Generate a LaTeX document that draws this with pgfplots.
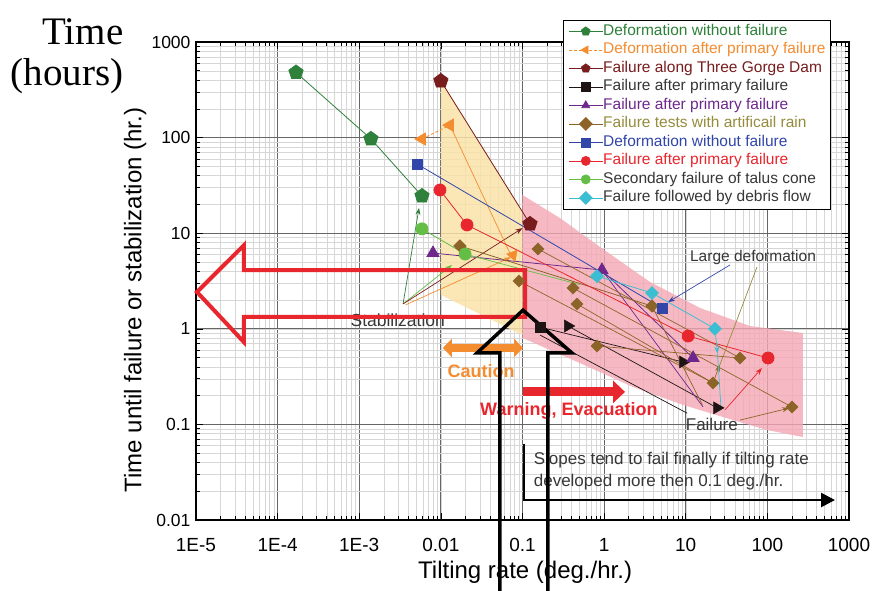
\documentclass[border=0pt]{standalone}
\usepackage{fontspec}
\setmainfont{Liberation Sans}
\newfontfamily\serifhead{Liberation Serif}
\usepackage{pgfplots}
\pgfplotsset{compat=1.18}
\usetikzlibrary{arrows.meta}

\definecolor{cGreen}{RGB}{46,128,58}
\definecolor{cOrange}{RGB}{244,140,48}
\definecolor{cMaroon}{RGB}{120,28,30}
\definecolor{cBlack}{RGB}{30,20,20}
\definecolor{cPurple}{RGB}{110,40,140}
\definecolor{cBrown}{RGB}{140,100,40}
\definecolor{cOlive}{RGB}{150,140,60}
\definecolor{cBlue}{RGB}{50,70,170}
\definecolor{cRed}{RGB}{232,38,45}
\definecolor{cLime}{RGB}{100,190,70}
\definecolor{cCyan}{RGB}{60,190,210}
\definecolor{cText}{RGB}{55,55,55}
\definecolor{bandPink}{RGB}{244,168,180}
\definecolor{bandYellow}{RGB}{250,226,168}

\pgfplotsset{
  dline/.style={line width=0.8pt},
  aline/.style={line width=0.7pt, forget plot, -{Stealth[length=7pt,width=5pt]}},
  pline/.style={line width=0.7pt, forget plot},
}

\begin{document}
\begin{tikzpicture}[x=1pt,y=1pt]
\useasboundingbox (0,0) rectangle (876,590);
\node[font=\serifhead\fontsize{39}{39}\selectfont, anchor=base] at (83,545) {Time};
\node[font=\serifhead\fontsize{39}{39}\selectfont, anchor=base] at (67,504) {(hours)};
\begin{axis}[
  at={(196pt,70pt)}, anchor=south west,
  width=653pt, height=478pt, scale only axis,
  xmode=log, ymode=log,
  xmin=1e-5, xmax=1000, ymin=0.01, ymax=1000,
  xtick={1e-5,1e-4,1e-3,1e-2,1e-1,1,10,100,1000},
  xticklabels={1E-5,1E-4,1E-3,0.01,0.1,1,10,100,1000},
  ytick={0.01,0.1,1,10,100,1000},
  yticklabels={0.01,0.1,1,10,100,1000},
  grid=both,
  major grid style={draw=black!60, line width=0.8pt},
  minor grid style={draw=black!16, line width=0.5pt},
  tick align=inside,
  major tick length=7pt, minor tick length=4pt,
  every tick/.style={black, line width=0.6pt},
  axis line style={line width=1.2pt},
  xticklabel style={font=\fontsize{19}{19}\selectfont, yshift=-15pt},
  yticklabel style={font=\fontsize{17.5}{17.5}\selectfont, xshift=-2pt},
  xlabel={Tilting rate (deg./hr.)},
  ylabel={Time until failure or stabilization (hr.)},
  label style={font=\fontsize{24}{24}\selectfont},
  xlabel style={at={(axis description cs:0.504,-0.109)}, anchor=center},
  ylabel style={at={(axis description cs:-0.093,0.46)}, anchor=center, rotate=0},
  clip=false,
  legend style={at={(axis description cs:0.562,1.046)}, anchor=north west,
    draw=black, line width=0.8pt, fill=white,
    font=\fontsize{15.5}{16}\selectfont,
    inner xsep=5pt, inner ysep=4pt, row sep=4.5pt,
    nodes={inner sep=0pt, text height=11pt, text depth=3pt}},
  legend cell align=left,
  legend image code/.code={\draw[mark repeat=2,mark phase=2] plot coordinates {(0pt,0pt) (17pt,0pt) (34pt,0pt)};},
  legend image post style={mark size=4.5pt},
]

% shaded zones: caution (yellow) and warning (pink)
\addplot[fill=bandYellow, draw=none, fill opacity=0.85, forget plot]
  coordinates {(0.01,401) (0.1,16.7) (0.1,0.86) (0.01,2.26)};
\addplot[fill=bandPink, draw=none, fill opacity=0.8, forget plot]
  coordinates {(0.1,25.1) (0.288,14.4) (0.89,7.18) (3.65,3.09) (15,1.65) (61.2,1.07) (273,0.904)
               (273,0.0738) (98.9,0.0873) (37.9,0.111) (9.25,0.160) (2.26,0.246) (0.506,0.438) (0.217,0.600) (0.1,0.802)};

% pointers to the stabilization cases
\addplot[cGreen, aline] coordinates {(3.44e-3,1.82) (5.4e-3,18.4)};
\addplot[cLime, aline] coordinates {(3.44e-3,1.82) (0.01367,4.65)};
\addplot[cMaroon, aline] coordinates {(3.44e-3,1.82) (0.1,11.3)};
\addplot[cOrange, aline] coordinates {(3.7e-3,1.78) (0.072,5.6)};

% 1
\addplot[cGreen, dline, mark=pentagon*, mark size=7.5pt, mark options={fill=cGreen}]
  coordinates {(1.68e-4,480) (1.39e-3,97) (5.87e-3,24.5)};
\addlegendentry{\textcolor{cGreen}{Deformation without failure}}
% 2
\addplot[cOrange, dline, mark=triangle*, mark size=7pt, mark options={rotate=90, fill=cOrange, solid}, densely dashed]
  coordinates {(5.87e-3,96.6) (0.0129,135)};
\addlegendentry{\textcolor{cOrange}{Deformation after primary failure}}
\addplot[cOrange, pline] coordinates {(0.0129,135) (0.07,6.2)};
\addplot[cOrange, only marks, forget plot, mark=triangle*, mark size=6.5pt, mark options={rotate=-40, fill=cOrange}]
  coordinates {(0.0766,5.9)};
% 3
\addplot[cMaroon, dline, mark=pentagon*, mark size=7.5pt, mark options={fill=cMaroon}]
  coordinates {(0.01,391) (0.1236,12.5)};
\addlegendentry{\textcolor{cMaroon}{Failure along Three Gorge Dam}}
% 4
\addplot[cBlack, pline] coordinates {(0.164,1.04) (9.25,0.45)};
\addplot[cBlack, pline] coordinates {(0.36,1.07) (24.2,0.149)};
\addplot[cBlack, pline] coordinates {(0.164,0.86) (10.4,0.131)};
\addplot[cBlack, dline, mark=square*, mark size=5pt, mark options={fill=cBlack}]
  coordinates {(0.164,1.04)};
\addlegendentry{\textcolor{cText}{Failure after primary failure}}
\addplot[cBlack, only marks, forget plot, mark=triangle*, mark size=7pt, mark options={rotate=-90, fill=cBlack}]
  coordinates {(0.36,1.07) (9.25,0.45) (24.2,0.149)};
% 5
\addplot[cPurple, pline] coordinates {(0.94,4.12) (16.3,0.152)};
\addplot[cPurple, dline, mark=triangle*, mark size=7pt, mark options={fill=cPurple}]
  coordinates {(8.0e-3,6.2) (0.94,4.12) (12.3,0.495)};
\addlegendentry{\textcolor{cPurple}{Failure after primary failure}}
% 6
\addplot[cBrown, pline] coordinates {(0.155,6.84) (46.3,0.495)};
\addplot[cBrown, pline] coordinates {(0.0906,3.16) (21.6,0.271)};
\addplot[cBrown, pline] coordinates {(0.416,2.67) (200,0.152)};
\addplot[cBrown, pline] coordinates {(0.466,1.82) (21.6,0.271)};
\addplot[cBrown, pline] coordinates {(0.818,0.66) (46.3,0.495)};
\addplot[cBrown, pline] coordinates {(3.86,1.73) (16,0.16)};
\addplot[cBrown, aline] coordinates {(21.6,0.271) (26,0.42)};
\addplot[cBrown, aline] coordinates {(46.3,0.111) (185,0.148)};
\addplot[cOlive, pline] coordinates {(74.6,4.43) (24.8,0.371)};
\addplot[cBrown, dline, mark=square*, mark size=4.3pt, mark options={rotate=45, fill=cBrown}]
  coordinates {(0.0171,7.35) (3.86,1.73)};
\addlegendentry{\textcolor{cOlive}{Failure tests with artificail rain}}
\addplot[cBrown, only marks, forget plot, mark=square*, mark size=4.3pt, mark options={rotate=45, fill=cBrown}]
  coordinates {(0.0906,3.16) (0.155,6.84) (0.416,2.67) (0.466,1.82) (0.818,0.66) (21.6,0.271) (46.3,0.495) (200,0.152)};
% 7
\addplot[cBlue, dline, mark=square*, mark size=5pt, mark options={fill=cBlue}]
  coordinates {(5.1e-3,53) (5.12,1.65)};
\addlegendentry{\textcolor{cBlue}{Deformation without failure}}
\addplot[cBlue, aline] coordinates {(34.8,4.65) (6.07,1.9)};
% 8
\addplot[cRed, dline, mark=*, mark size=6pt, mark options={fill=cRed}]
  coordinates {(9.75e-3,28.3) (0.0209,12.2) (10.7,0.84) (102,0.495)};
\addlegendentry{\textcolor{cRed}{Failure after primary failure}}
\addplot[cRed, aline] coordinates {(30.3,0.142) (85.9,0.389)};
% 9
\addplot[cLime, pline] coordinates {(0.0198,6.05) (0.5,2.9)};
\addplot[cLime, dline, mark=*, mark size=6pt, mark options={fill=cLime}]
  coordinates {(5.87e-3,11.1) (0.0198,6.05)};
\addlegendentry{\textcolor{cText}{Secondary failure of talus cone}}
% 10
\addplot[cCyan, aline] coordinates {(22.8,1.0) (24.5,0.55)};
\addplot[cCyan, pline] coordinates {(24.5,0.55) (27,0.15)};
\addplot[cCyan, dline, mark=square*, mark size=4.5pt, mark options={rotate=45, fill=cCyan}]
  coordinates {(0.818,3.56) (3.86,2.37) (22.8,1.0)};
\addlegendentry{\textcolor{cText}{Failure followed by debris flow}}

% explanatory arrows and notes
\draw[cOrange, line width=8pt, {Triangle[length=9pt,width=18pt]}-{Triangle[length=9pt,width=18pt]}]
  (axis description cs:0.378,0.360) -- (axis description cs:0.5008,0.360);
\node[cOrange, font=\bfseries\fontsize{18}{18}\selectfont] at (axis description cs:0.4365,0.312) {Caution};
\draw[cRed, line width=9pt, -{Triangle[length=12pt,width=22pt]}]
  (axis description cs:0.5008,0.268) -- (axis description cs:0.657,0.268);
\node[cRed, font=\bfseries\fontsize{18}{18}\selectfont] at (axis description cs:0.571,0.228) {Warning, Evacuation};
\draw[black, line width=2.5pt, -{Triangle[length=14pt,width=14pt]}]
  (axis description cs:0.5023,0.159) -- (axis description cs:0.5023,0.0418) -- (axis description cs:0.9786,0.0418);
\node[cText, anchor=west, align=left, font=\fontsize{17}{22}\selectfont] at (axis description cs:0.512,0.1025)
  {Slopes tend to fail finally if tilting rate\\developed more then 0.1 deg./hr.};
\node[cText, font=\fontsize{17.5}{18}\selectfont] at (axis description cs:0.309,0.418) {Stabilization};
\node[cText, font=\fontsize{15.5}{16}\selectfont] at (axis description cs:0.853,0.55) {Large deformation};
\node[cText, font=\fontsize{17}{18}\selectfont] at (axis description cs:0.79,0.199) {Failure};

% hollow pointer arrows
\draw[cRed, line width=4pt, line join=miter]
  (axis description cs:0.0015,0.477) -- (axis description cs:0.0735,0.575) -- (axis description cs:0.0735,0.523)
  -- (axis description cs:0.504,0.523) -- (axis description cs:0.504,0.425) -- (axis description cs:0.0735,0.425)
  -- (axis description cs:0.0735,0.372) -- cycle;
\draw[black, line width=3.5pt, line join=miter]
  (axis description cs:0.539,-0.17) -- (axis description cs:0.539,0.3494) -- (axis description cs:0.5758,0.3494)
  -- (axis description cs:0.5008,0.439) -- (axis description cs:0.4303,0.3494) -- (axis description cs:0.4655,0.3494)
  -- (axis description cs:0.4655,-0.17);
\end{axis}
\end{tikzpicture}
\end{document}
